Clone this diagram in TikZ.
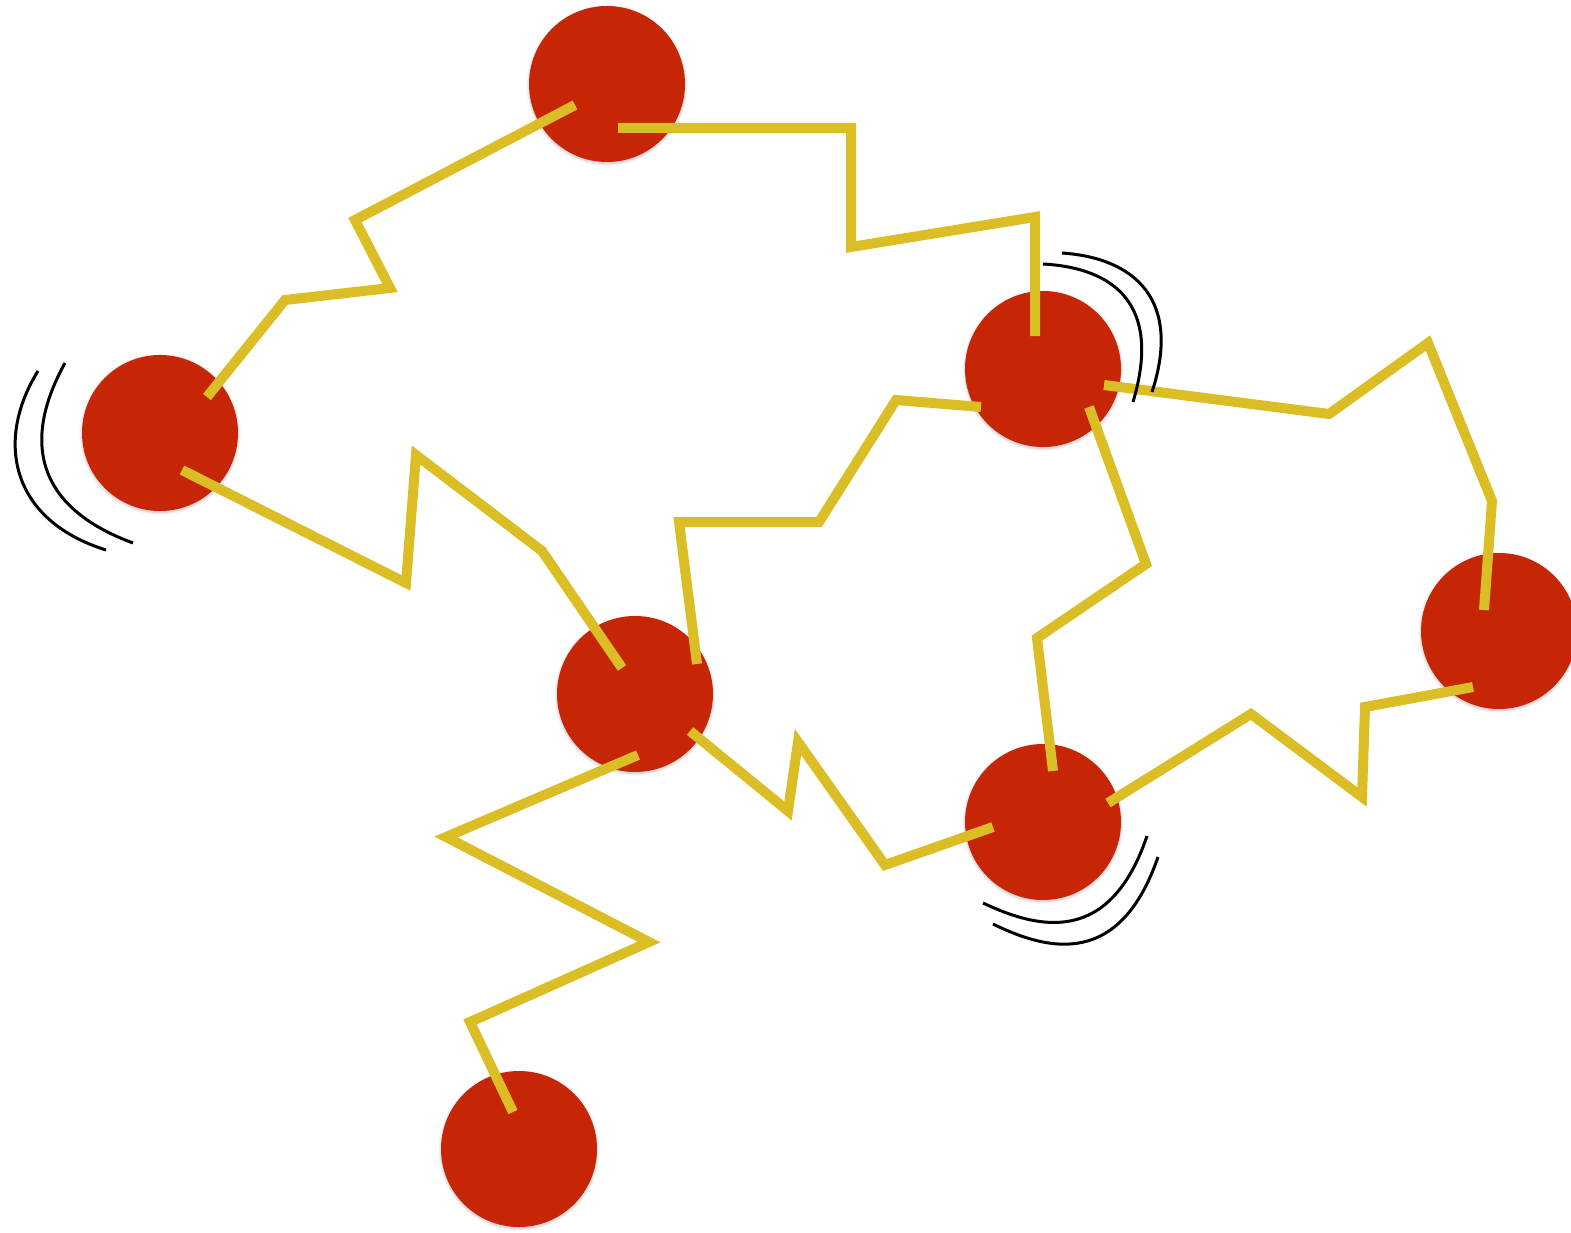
\documentclass[tikz,border=0pt]{standalone}
\usetikzlibrary{calc,shadows.blur}
\definecolor{ballred}{RGB}{198,37,6}
\definecolor{bondyellow}{RGB}{219,190,37}
\tikzset{
  ball/.style={circle, fill=ballred, minimum size=156pt, inner sep=0pt,
    blur shadow={shadow xshift=0pt, shadow yshift=-1.5pt, shadow blur radius=3pt,
      shadow opacity=25, shadow blur steps=6}},
  bond/.style={draw=bondyellow, line width=10pt, line cap=butt, line join=miter},
  wiggle/.style={draw=black, line width=3pt}
}
\begin{document}
\begin{tikzpicture}[x=1pt,y=-1pt]
\useasboundingbox (0,0) rectangle (1571,1233);
\clip (0,0) rectangle (1571,1233);

% atoms
\node[ball] (c1) at (607,84) {};
\node[ball] (c2) at (160,433) {};
\node[ball] (c3) at (1043,369) {};
\node[ball] (c4) at (635,694) {};
\node[ball] (c5) at (1499,631) {};
\node[ball] (c6) at (1043,822) {};
\node[ball] (c7) at (519,1149) {};

% springy bonds
\draw[bond] ($(c1)+(-32,21)$) -- (355,220) -- (390,288) -- (285,300) -- ($(c2)+(47,-36)$);
\draw[bond] ($(c1)+(11,44)$) -- (851,128) -- (851,247) -- (1035,217) -- ($(c3)+(-8,-33)$);
\draw[bond] ($(c2)+(22,37)$) -- (406,583) -- (416,455) -- (542,551) -- ($(c4)+(-13,-26)$);
\draw[bond] ($(c4)+(62,-30)$) -- (679,522) -- (819,522) -- (896,400) -- ($(c3)+(-62,38)$);
\draw[bond] ($(c3)+(61,16)$) -- (1329,414) -- (1428,343) -- (1492,501) -- ($(c5)+(-15,-21)$);
\draw[bond] ($(c3)+(46,38)$) -- (1146,564) -- (1037,638) -- ($(c6)+(10,-51)$);
\draw[bond] ($(c4)+(3,61)$) -- (446,837) -- (649,942) -- (470,1022) -- ($(c7)+(-6,-37)$);
\draw[bond] ($(c4)+(55,37)$) -- (788,811) -- (798,742) -- (885,865) -- ($(c6)+(-50,5)$);
\draw[bond] ($(c6)+(65,-19)$) -- (1251,714) -- (1362,797) -- (1365,707) -- ($(c5)+(-26,56)$);

% vibration marks
\draw[wiggle] (38,371) .. controls (-5,440) and (10,520) .. (106,550);
\draw[wiggle] (65,363) .. controls (25,435) and (30,505) .. (133,543);
\draw[wiggle] (1043,264) .. controls (1115,268) and (1162,305) .. (1133,402);
\draw[wiggle] (1062,253) .. controls (1135,258) and (1182,300) .. (1152,392);
\draw[wiggle] (983,903) .. controls (1040,930) and (1110,945) .. (1147,836);
\draw[wiggle] (993,924) .. controls (1050,952) and (1120,967) .. (1158,857);
\end{tikzpicture}
\end{document}
